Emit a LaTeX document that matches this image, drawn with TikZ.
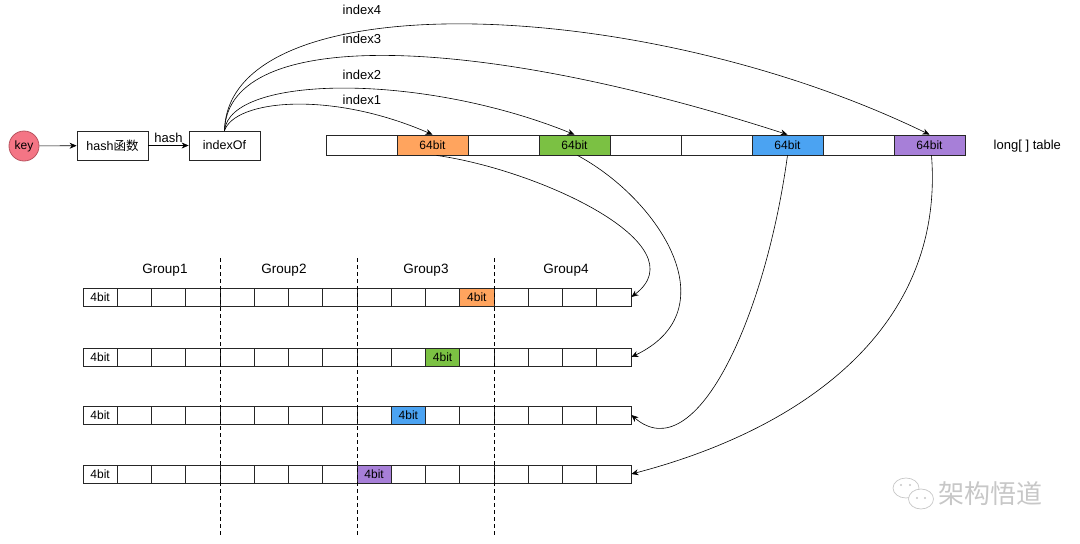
\documentclass[tikz,border=0pt]{standalone}
\usepackage{fontspec}
\setmainfont{Liberation Sans}
\newfontfamily\cjk{Noto Sans CJK SC}
\usetikzlibrary{arrows.meta,calc}
\definecolor{cor}{HTML}{FFA45E}
\definecolor{cgr}{HTML}{7BC143}
\definecolor{cbl}{HTML}{4BA3F2}
\definecolor{cpu}{HTML}{A77FD8}
\definecolor{keyfill}{HTML}{F47585}
\definecolor{keydraw}{HTML}{B85460}
\begin{document}
\begin{tikzpicture}[x=1pt,y=-1pt,line width=0.8pt,
  cell/.style={draw=black!85,rectangle,minimum width=71pt,minimum height=20pt,inner sep=0pt,font=\fontsize{12}{14}\selectfont},
  bitcell/.style={draw=black!85,rectangle,minimum width=34.25pt,minimum height=18pt,inner sep=0pt,font=\fontsize{12}{14}\selectfont},
  fbox/.style={draw=black!85,rectangle,minimum width=71pt,minimum height=29pt,inner sep=0pt,font=\fontsize{12.5}{14}\selectfont},
  arr/.style={-{Stealth[length=7pt,width=6pt]},line width=0.6pt},
  lbl/.style={font=\fontsize{13}{15}\selectfont},
  grp/.style={font=\fontsize{13.5}{15}\selectfont}]
\useasboundingbox (0,0) rectangle (1080,544);

% top chain
\node[circle,draw=keydraw,fill=keyfill,minimum size=30pt,inner sep=0pt,font=\fontsize{12}{14}\selectfont] (key) at (24,146) {key};
\node[fbox] (hf) at (112.5,145.5) {hash{\cjk 函数}};
\node[fbox] (iof) at (224.5,145.5) {indexOf};
\draw[arr] (key) -- (hf);
\draw[arr] (hf) -- node[above=2pt,lbl,inner sep=1pt] (hl) {hash} (iof);

% long table
\foreach \i/\c/\t in {1/white/{},2/cor/64bit,3/white/{},4/cgr/64bit,5/white/{},6/white/{},7/cbl/64bit,8/white/{},9/cpu/64bit}
  \node[cell,fill=\c] (t\i) at ({326+71*(\i-0.5)},145) {\t};
\node[lbl,anchor=west] (ltab) at (990,146) {long[ ] table};

% index curves
\node[lbl,anchor=west] (i4) at (339,10) {index4};
\node[lbl,anchor=west] (i3) at (339,39) {index3};
\node[lbl,anchor=west] (i2) at (339,75) {index2};
\node[lbl,anchor=west] (i1) at (339,100) {index1};
\draw[arr] (iof.north) .. controls (228,-18) and (640,-6) .. (t9.north);
\draw[arr] (iof.north) .. controls (228,25) and (480,35) .. (t7.north);
\draw[arr] (iof.north) .. controls (230,75) and (420,72) .. (t4.north);
\draw[arr] (iof.north) .. controls (235,100) and (330,90) .. (t2.north);

% groups
\node[grp] (g1) at (165,270) {Group1};
\node[grp] (g2) at (284,270) {Group2};
\node[grp] (g3) at (426,270) {Group3};
\node[grp] (g4) at (566,270) {Group4};

% bit rows
\foreach \r/\y in {1/297,2/357,3/415,4/474}{
  \node[bitcell] (r\r-1) at ({83+34.25*0.5},\y) {4bit};
  \foreach \j in {2,...,16}
    \node[bitcell] (r\r-\j) at ({83+34.25*(\j-0.5)},\y) {};
}
\node[bitcell,fill=cor] (h1) at (r1-12) {4bit};
\node[bitcell,fill=cgr] (h2) at (r2-11) {4bit};
\node[bitcell,fill=cbl] (h3) at (r3-10) {4bit};
\node[bitcell,fill=cpu] (h4) at (r4-9) {4bit};

% dashed separators
\foreach \x in {220,357,494}
  \draw[dashed,line width=0.6pt,dash pattern=on 4pt off 3pt] (\x,258) -- (\x,536);

% lower curves
\draw[arr] ([xshift=4pt]t2.south) .. controls (540,170) and (700,245) .. (r1-16.east);
\draw[arr] ([xshift=3pt]t4.south) .. controls (660,200) and (730,310) .. (r2-16.east);
\draw[arr] (t7.south) .. controls (765,320) and (695,470) .. (r3-16.east);
\draw[arr] ([xshift=2pt]t9.south) .. controls (945,330) and (800,430) .. (r4-16.east);

% watermark
\draw[black!22,line width=0.7pt] (906,488) ellipse (13 and 10);
\draw[black!22,line width=0.7pt,fill=white] (921,499) ellipse (12.5 and 10);
\fill[black!22] (901,485) circle (1.2) (910,485) circle (1.2) (917,498) circle (1.2) (925,498) circle (1.2);
\node[text=black!22,font=\cjk\fontsize{26}{28}\selectfont,anchor=west] (wm) at (935,494) {架构悟道};
\end{tikzpicture}
\end{document}
